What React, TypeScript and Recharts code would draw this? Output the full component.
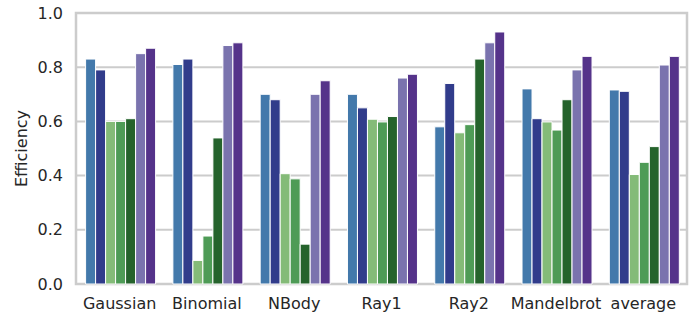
import {
  BarChart,
  Bar,
  XAxis,
  YAxis,
  CartesianGrid,
  ReferenceArea,
} from "recharts";

const categories = ["Gaussian", "Binomial", "NBody", "Ray1", "Ray2", "Mandelbrot", "average"];

const s1 = [0.83, 0.81, 0.7, 0.7, 0.58, 0.72, 0.716];
const s2 = [0.79, 0.83, 0.68, 0.65, 0.74, 0.61, 0.711];
const s3 = [0.6, 0.087, 0.407, 0.608, 0.558, 0.598, 0.404];
const s4 = [0.6, 0.177, 0.388, 0.598, 0.588, 0.568, 0.449];
const s5 = [0.61, 0.539, 0.147, 0.618, 0.83, 0.68, 0.507];
const s6 = [0.85, 0.88, 0.7, 0.76, 0.89, 0.79, 0.808];
const s7 = [0.87, 0.89, 0.75, 0.774, 0.93, 0.84, 0.84];

const yTicks = [0, 0.2, 0.4, 0.6, 0.8, 1.0];

const seriesList = [
  { key: "s1", values: s1, color: "#4379ab" },
  { key: "s2", values: s2, color: "#313c8b" },
  { key: "s3", values: s3, color: "#84bb78" },
  { key: "s4", values: s4, color: "#4e9b56" },
  { key: "s5", values: s5, color: "#25632c" },
  { key: "s6", values: s6, color: "#7a73ae" },
  { key: "s7", values: s7, color: "#55338a" },
];

const data = categories.map((name, i) => {
  const row: Record<string, string | number> = { name };
  seriesList.forEach((s) => {
    row[s.key] = s.values[i];
  });
  return row;
});

const font = "'DejaVu Sans', sans-serif";
const textColor = "#262626";
const gridColor = "#cccccc";

export default function App() {
  return (
    <div style={{ position: "absolute", left: 0, top: 0, background: "#fff" }}>
      <BarChart
        width={699}
        height={316}
        data={data}
        margin={{ top: 13, right: 12, left: 0, bottom: 0 }}
        barCategoryGap="11%"
        barGap={0}
        style={{ fontFamily: font }}
      >
        <CartesianGrid
          vertical={false}
          stroke={gridColor}
          strokeWidth={2}
        />
        <XAxis
          dataKey="name"
          height={32}
          axisLine={false}
          tickLine={false}
          tickSize={0}
          tickMargin={14}
          interval={0}
          tick={{ fontSize: 16, fill: textColor, fontFamily: font }}
        />
        <YAxis
          width={76}
          domain={[0, 1]}
          ticks={yTicks}
          axisLine={false}
          tickLine={false}
          tickSize={0}
          tickMargin={13}
          tickFormatter={(v: number) => v.toFixed(1)}
          tick={{ fontSize: 16, fill: textColor, fontFamily: font }}
          label={{
            content: () => (
              <text
                x={21}
                y={148.5}
                transform="rotate(-90 21 148.5)"
                textAnchor="middle"
                dominantBaseline="central"
                fontSize={16}
                fill={textColor}
                fontFamily={font}
              >
                Efficiency
              </text>
            ),
          }}
        />
        {seriesList.map((s) => (
          <Bar
            key={s.key}
            dataKey={s.key}
            fill={s.color}
            stroke="#ffffff"
            strokeWidth={1}
            isAnimationActive={false}
          />
        ))}
        <ReferenceArea
          y1={0}
          y2={1}
          fill="none"
          stroke={gridColor}
          strokeWidth={2.5}
          ifOverflow="visible"
        />
      </BarChart>
    </div>
  );
}
